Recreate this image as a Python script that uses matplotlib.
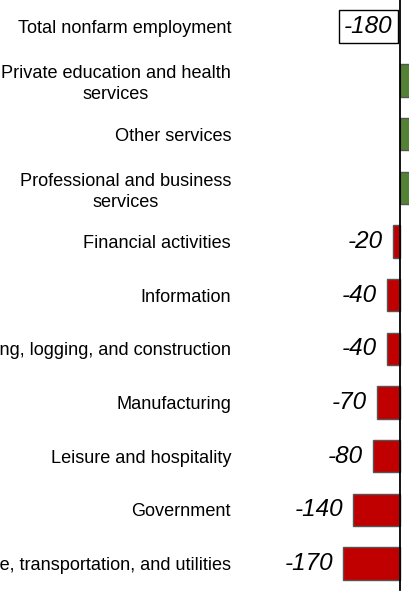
import matplotlib.pyplot as plt

# Data
categories = ['Total nonfarm employment',
              'Private education and health\nservices',
              'Other services',
              'Professional and business\nservices',
              'Financial activities',
              'Information',
              'Mining, logging, and construction',
              'Manufacturing',
              'Leisure and hospitality',
              'Government',
              'Trade, transportation, and utilities']
values = [-180, 150, 70, 100, -20, -40, -40, -70, -80, -140, -170]

plt.rcParams['font.family'] = ['Liberation Sans', 'DejaVu Sans']

fig = plt.figure(figsize=(4.09, 5.93), dpi=100)
# axes run past the right edge of the figure, like the cropped original
ax = fig.add_axes([238 / 409, 0.0, 262 / 409, 1.0])

rows = list(range(len(categories)))

# the total is shown only as a boxed label, the sectors as bars
for i, v in zip(rows[1:], values[1:]):
    col = '#548235' if v > 0 else '#C00000'
    ax.barh(i, v, height=0.6, color=col, edgecolor='#555555', linewidth=1)
    if v < 0:
        ax.annotate('%d' % v, (v, i), xytext=(-10, 0), textcoords='offset pixels',
                    ha='right', va='center', fontsize=17.5, style='italic')

ax.annotate('%d' % values[0], (0, 0), xytext=(-7, 0), textcoords='offset pixels',
            ha='right', va='center', fontsize=17.5, style='italic',
            bbox=dict(boxstyle='square,pad=0.2', facecolor='white', edgecolor='black', linewidth=1))

ax.axvline(0, color='black', linewidth=1.3, ymin=0.005, ymax=1)

ax.set_xlim(-485, 300)
ax.set_ylim(10.55, -0.5)
ax.set_yticks(rows)
ax.set_yticklabels(categories, fontsize=13.1, multialignment='center', linespacing=1.3)
ax.tick_params(axis='y', length=0, pad=5)
ax.set_xticks([])
for s in ax.spines.values():
    s.set_visible(False)

plt.savefig('out.png', dpi=100)
